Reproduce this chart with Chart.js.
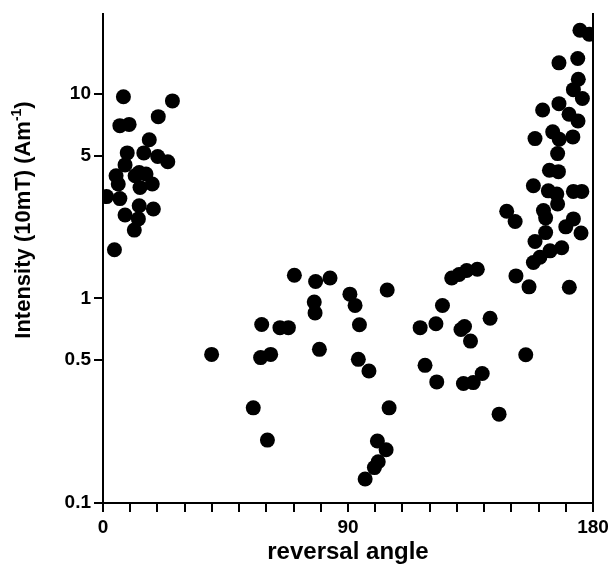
<!DOCTYPE html>
<html>
<head>
<meta charset="utf-8">
<script src="https://cdn.jsdelivr.net/npm/chart.js@4"></script>
<style>
  html, body { margin: 0; padding: 0; background: #fff; }
  #wrap { width: 608px; height: 569px; }
</style>
</head>
<body>
<div id="wrap"><canvas id="myChart" width="608" height="569"></canvas></div>
<script>
// reversal angle (degrees) and intensity (Am-1)
const angle = [
  7.5, 25.5, 20.3, 6.2, 9.6, 17, 8.9, 15, 20.1, 23.8, 8.1, 4.8, 13.3,
  11.8, 15.8, 18.1, 13.6, 5.6, 1.3, 6.2, 8.1, 13.3, 18.5, 13, 11.5, 4.2,
  39.9, 70.3, 78.1, 83.4, 90.7, 92.6, 104.4, 77.6, 77.9, 58.3, 65, 68.1,
  94.2, 57.9, 61.6, 79.5, 93.8, 97.7, 55.2, 105.1, 60.4, 100.8, 104,
  101.1, 99.7, 96.3,
  116.5, 118.3, 128.1, 130.8, 133.6, 137.5, 151.7, 156.5, 171.3, 124.7,
  142.2, 122.3, 131.5, 132.8, 135, 155.3, 122.6, 132.4, 136, 139.3, 145.5,
  175.2, 178.6, 167.5, 174.4, 174.6, 172.8, 176.1, 167.5, 161.5, 171.2,
  174.5, 165.2, 158.7, 167.6, 172.6, 167, 164, 167.3, 158.1, 163.6, 166.7,
  172.8, 175.9, 167, 148.3, 151.4, 161.8, 162.6, 170, 172.8, 175.6, 162.6,
  158.7, 164.2, 168.5, 158.1, 160.5
];
const intensity = [
  9.7, 9.25, 7.75, 7.0, 7.1, 5.97, 5.15, 5.15, 4.95, 4.66, 4.5, 3.98, 4.13,
  3.98, 4.06, 3.63, 3.49, 3.63, 3.15, 3.08, 2.56, 2.84, 2.74, 2.45, 2.16, 1.73,
  0.533, 1.30, 1.21, 1.26, 1.05, 0.925, 1.10, 0.96, 0.85, 0.746, 0.72, 0.72,
  0.744, 0.514, 0.533, 0.564, 0.504, 0.442, 0.292, 0.292, 0.203, 0.201, 0.182,
  0.159, 0.149, 0.131,
  0.72, 0.471, 1.26, 1.31, 1.37, 1.39, 1.29, 1.14, 1.135, 0.924,
  0.80, 0.752, 0.705, 0.73, 0.619, 0.531, 0.391, 0.384, 0.388, 0.43, 0.272,
  20.5, 19.6, 14.2, 14.9, 11.8, 10.5, 9.5, 8.97, 8.35, 7.96,
  7.38, 6.53, 6.05, 6.01, 6.17, 5.11, 4.24, 4.17, 3.56, 3.36, 3.24,
  3.34, 3.34, 2.9, 2.67, 2.38, 2.69, 2.48, 2.24, 2.45, 2.09, 2.1,
  1.90, 1.71, 1.77, 1.50, 1.59
];
const yTicks = [0.1, 0.5, 1, 5, 10];
const xLabels = [0, 90, 180];

const points = angle.map((a, i) => ({ x: a, y: intensity[i] }));
const font = { family: '"Liberation Sans", Arial, sans-serif', weight: 'bold', size: 19 };

// y title with a superscript, drawn rotated beside the axis
const yTitle = {
  id: 'yTitle',
  afterDraw(chart) {
    const c = chart.ctx;
    const main = 'Intensity (10mT) (Am';
    const big = 'bold 22px "Liberation Sans", Arial, sans-serif';
    const small = 'bold 14px "Liberation Sans", Arial, sans-serif';
    c.save();
    c.translate(24, 220);
    c.rotate(-Math.PI / 2);
    c.fillStyle = '#000';
    c.textBaseline = 'middle';
    c.font = big;
    const w1 = c.measureText(main).width;
    const w3 = c.measureText(')').width;
    c.font = small;
    const w2 = c.measureText('-1').width;
    let x0 = -(w1 + w2 + w3) / 2;
    c.font = big;
    c.fillText(main, x0, 0);
    c.font = small;
    c.fillText('-1', x0 + w1, -7);
    c.font = big;
    c.fillText(')', x0 + w1 + w2, 0);
    c.restore();
  }
};

const ctx = document.getElementById('myChart');
new Chart(ctx, {
  type: 'scatter',
  data: {
    datasets: [{
      data: points,
      backgroundColor: '#000',
      borderWidth: 0,
      pointRadius: 7.5,
      pointHoverRadius: 7.5
    }]
  },
  options: {
    responsive: false,
    animation: false,
    layout: { padding: { top: 13, left: 0, right: 0, bottom: 0 } },
    plugins: { legend: { display: false }, tooltip: { enabled: false } },
    scales: {
      x: {
        type: 'linear',
        min: 0,
        max: 180,
        afterFit(scale) { scale.height = 66; scale.paddingRight = 15; scale.paddingLeft = 0; },
        ticks: {
          stepSize: 10,
          autoSkip: false,
          maxRotation: 0,
          padding: 4,
          color: '#000',
          font: font,
          callback: (v) => (xLabels.includes(v) ? String(v) : '')
        },
        grid: { drawOnChartArea: false, tickLength: 9, color: '#000', lineWidth: 2 },
        border: { display: true, color: '#000', width: 2 },
        title: {
          display: true,
          text: 'reversal angle',
          color: '#000',
          font: { family: '"Liberation Sans", Arial, sans-serif', weight: 'bold', size: 24 },
          padding: { top: 0, bottom: 2 }
        }
      },
      y: {
        type: 'logarithmic',
        min: 0.1,
        max: 24.5,
        afterFit(scale) { scale.width = 103; },
        afterBuildTicks(scale) { scale.ticks = yTicks.map((v) => ({ value: v })); },
        ticks: {
          padding: 3,
          color: '#000',
          font: font,
          callback: (v) => String(v)
        },
        grid: { drawOnChartArea: false, tickLength: 9, color: '#000', lineWidth: 2 },
        border: { display: true, color: '#000', width: 2 }
      },
      y2: {
        type: 'linear',
        position: 'right',
        min: 0,
        max: 1,
        afterFit(scale) { scale.width = 15; },
        ticks: { display: false },
        grid: { display: false },
        border: { display: true, color: '#000', width: 2 }
      }
    }
  },
  plugins: [yTitle]
});
</script>
</body>
</html>
